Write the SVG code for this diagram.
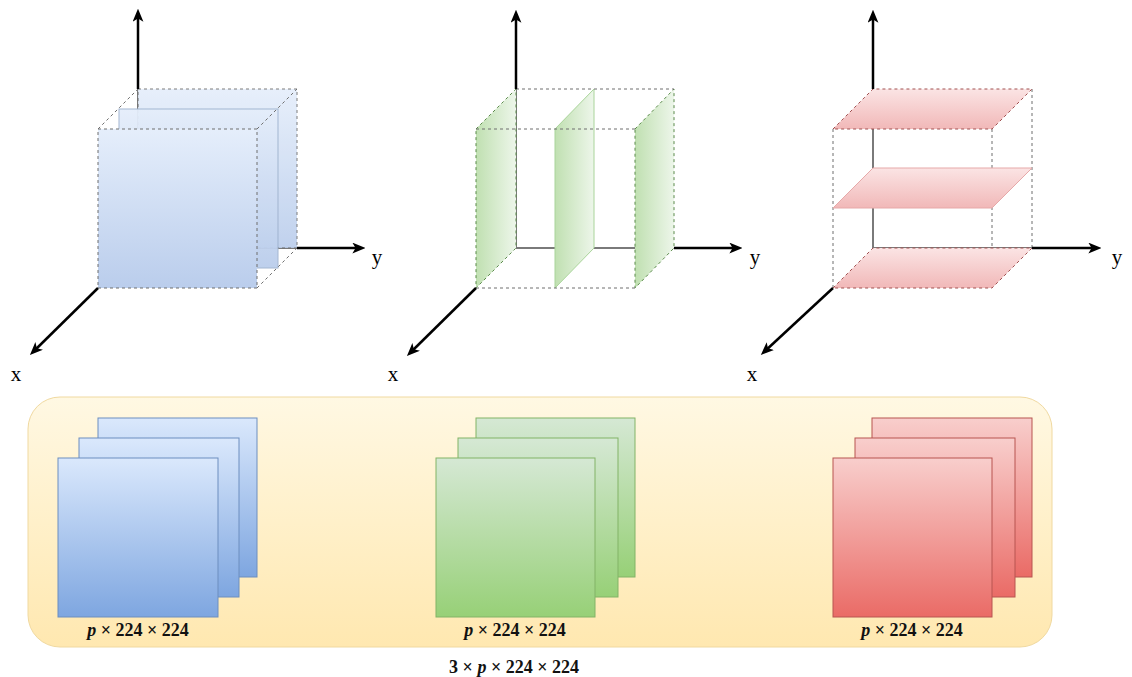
<svg xmlns="http://www.w3.org/2000/svg" width="1132" height="677" viewBox="0 0 1132 677">
<defs>
  <marker id="arr" viewBox="0 0 12 10" refX="8" refY="5" markerWidth="13" markerHeight="11" markerUnits="userSpaceOnUse" orient="auto">
    <path d="M0,0 L12,5 L0,10 L3,5 Z" fill="#000"/>
  </marker>
  <linearGradient id="gBlueFace" x1="0" y1="0" x2="0" y2="1">
    <stop offset="0" stop-color="#e5eefb"/>
    <stop offset="1" stop-color="#bacdec"/>
  </linearGradient>
  <linearGradient id="gGreenPlane" x1="0" y1="0" x2="1" y2="0">
    <stop offset="0" stop-color="#c0e0b1"/>
    <stop offset="1" stop-color="#edf6ea"/>
  </linearGradient>
  <linearGradient id="gRedPlane" x1="0" y1="0" x2="0" y2="1">
    <stop offset="0" stop-color="#fbe4e4"/>
    <stop offset="1" stop-color="#f1b8b8"/>
  </linearGradient>
  <linearGradient id="gYellow" x1="0" y1="0" x2="0" y2="1">
    <stop offset="0" stop-color="#fff8e3"/>
    <stop offset="1" stop-color="#ffe8b0"/>
  </linearGradient>
  <linearGradient id="gBlue" x1="0" y1="0" x2="0" y2="1">
    <stop offset="0" stop-color="#dae8fc"/>
    <stop offset="1" stop-color="#7ea6e0"/>
  </linearGradient>
  <linearGradient id="gGreen" x1="0" y1="0" x2="0" y2="1">
    <stop offset="0" stop-color="#d5e8d4"/>
    <stop offset="1" stop-color="#97d077"/>
  </linearGradient>
  <linearGradient id="gRed" x1="0" y1="0" x2="0" y2="1">
    <stop offset="0" stop-color="#f8cecc"/>
    <stop offset="1" stop-color="#ea6b66"/>
  </linearGradient>
</defs>
<style>
  .axis { stroke:#000; stroke-width:2.5; fill:none; marker-end:url(#arr); }
  .inner { stroke:#7a7a7a; stroke-width:2; fill:none; }
  .dash { stroke:#6e6e6e; stroke-width:1; stroke-dasharray:3 3; fill:none; }
  .lbl { font-size:21px; fill:#000; text-anchor:middle; }
  .math { font-size:18px; fill:#111; text-anchor:middle; font-weight:bold; }
  .math .v { font-style:italic; }
  .bface { fill:url(#gBlueFace); stroke:#6e6e6e; stroke-width:1; stroke-dasharray:3 3; }
  .gpl { fill:url(#gGreenPlane); stroke:#5a8a4a; stroke-width:1; stroke-dasharray:3 3; }
  .gpl2 { fill:url(#gGreenPlane); stroke:#a9d49a; stroke-width:1; }
  .rpl { fill:url(#gRedPlane); stroke:#a05050; stroke-width:1; stroke-dasharray:3 3; }
  .rpl2 { fill:url(#gRedPlane); stroke:#e6a9a9; stroke-width:1; }
  .sb { fill:url(#gBlue); stroke:#6c8ebf; stroke-width:1; }
  .sg { fill:url(#gGreen); stroke:#82b366; stroke-width:1; }
  .sr { fill:url(#gRed); stroke:#b85450; stroke-width:1; }
</style>

<!-- Panel 1: stacked faces along x -->
<g id="panel-x">
  <line class="inner" x1="138" y1="248" x2="138" y2="89"/>
  <line class="inner" x1="138" y1="248" x2="297" y2="248"/>
  <rect class="bface" x="138" y="89" width="159" height="159" opacity="0.9"/>
  <rect x="119" y="109" width="159" height="159" fill="url(#gBlueFace)" stroke="#9fb3cf" stroke-width="1" opacity="0.95"/>
  <rect class="bface" x="98" y="129" width="159" height="159"/>
  <line class="dash" x1="98" y1="129" x2="138" y2="89"/>
  <line class="dash" x1="257" y1="129" x2="297" y2="89"/>
  <line class="dash" x1="257" y1="288" x2="297" y2="248"/>
  <text class="lbl" font-family="'Liberation Serif','Times New Roman','DejaVu Serif',serif" x="377" y="264">y</text>
  <text class="lbl" font-family="'Liberation Serif','Times New Roman','DejaVu Serif',serif" x="16" y="381">x</text>
</g>

<!-- Panel 2: vertical planes along y -->
<g id="panel-y">
  <line class="inner" x1="516" y1="248" x2="516" y2="89"/>
  <line class="inner" x1="516" y1="248" x2="674" y2="248"/>
  <polygon class="gpl" points="476,129 516,89 516,248 476,288"/>
  <polygon class="gpl2" points="555,129 594,89 594,248 555,288"/>
  <polygon class="gpl" points="635,129 674,89 674,248 635,288"/>
  <line class="dash" x1="516" y1="89" x2="674" y2="89"/>
  <line class="dash" x1="476" y1="129" x2="635" y2="129"/>
  <line class="dash" x1="476" y1="288" x2="635" y2="288"/>
  <text class="lbl" font-family="'Liberation Serif','Times New Roman','DejaVu Serif',serif" x="755" y="264">y</text>
  <text class="lbl" font-family="'Liberation Serif','Times New Roman','DejaVu Serif',serif" x="393" y="381">x</text>
</g>

<!-- Panel 3: horizontal planes along z -->
<g id="panel-z">
  <line class="inner" x1="873" y1="248" x2="873" y2="89"/>
  <line class="inner" x1="873" y1="248" x2="1032" y2="248"/>
  <line class="dash" x1="833" y1="129" x2="833" y2="288"/>
  <line class="dash" x1="992" y1="129" x2="992" y2="288"/>
  <line class="dash" x1="1032" y1="89" x2="1032" y2="248"/>
  <polygon class="rpl" points="833,288 873,248 1032,248 992,288"/>
  <polygon class="rpl2" points="833,208 873,168 1032,168 992,208"/>
  <polygon class="rpl" points="833,129 873,89 1032,89 992,129"/>
  <text class="lbl" font-family="'Liberation Serif','Times New Roman','DejaVu Serif',serif" x="1117" y="264">y</text>
  <text class="lbl" font-family="'Liberation Serif','Times New Roman','DejaVu Serif',serif" x="752" y="381">x</text>
</g>

<!-- Axes -->
<g id="connectors">
  <line class="axis" x1="138" y1="89" x2="138" y2="13"/>
  <line class="axis" x1="297" y1="248" x2="361" y2="248"/>
  <line class="axis" x1="98" y1="288" x2="33" y2="352"/>

  <line class="axis" x1="516" y1="89" x2="516" y2="14"/>
  <line class="axis" x1="674" y1="248" x2="738" y2="248"/>
  <line class="axis" x1="476" y1="288" x2="410" y2="353"/>

  <line class="axis" x1="873" y1="89" x2="873" y2="14"/>
  <line class="axis" x1="1032" y1="248" x2="1097" y2="248"/>
  <line class="axis" x1="833" y1="288" x2="764" y2="352"/>
</g>

<!-- Bottom container -->
<g id="container">
  <rect x="28" y="397" width="1024" height="250" rx="32" ry="32" fill="url(#gYellow)" stroke="#f0d9a0" stroke-width="1"/>
</g>

<g id="stack-blue">
  <rect class="sb" x="98" y="418" width="159" height="159"/>
  <rect class="sb" x="79" y="438" width="160" height="159"/>
  <rect class="sb" x="58" y="458" width="160" height="159"/>
  <text class="math" font-family="'Liberation Serif','Times New Roman','DejaVu Serif',serif" x="138" y="636"><tspan class="v">p</tspan> × 224 × 224</text>
</g>

<g id="stack-green">
  <rect class="sg" x="476" y="418" width="159" height="159"/>
  <rect class="sg" x="458" y="438" width="160" height="159"/>
  <rect class="sg" x="436" y="458" width="159" height="159"/>
  <text class="math" font-family="'Liberation Serif','Times New Roman','DejaVu Serif',serif" x="515" y="636"><tspan class="v">p</tspan> × 224 × 224</text>
</g>

<g id="stack-red">
  <rect class="sr" x="872" y="418" width="160" height="159"/>
  <rect class="sr" x="855" y="438" width="160" height="159"/>
  <rect class="sr" x="833" y="458" width="159" height="159"/>
  <text class="math" font-family="'Liberation Serif','Times New Roman','DejaVu Serif',serif" x="912" y="636"><tspan class="v">p</tspan> × 224 × 224</text>
</g>

<g id="total-label">
  <text class="math" font-family="'Liberation Serif','Times New Roman','DejaVu Serif',serif" x="514" y="673">3 × <tspan class="v">p</tspan> × 224 × 224</text>
</g>
</svg>
